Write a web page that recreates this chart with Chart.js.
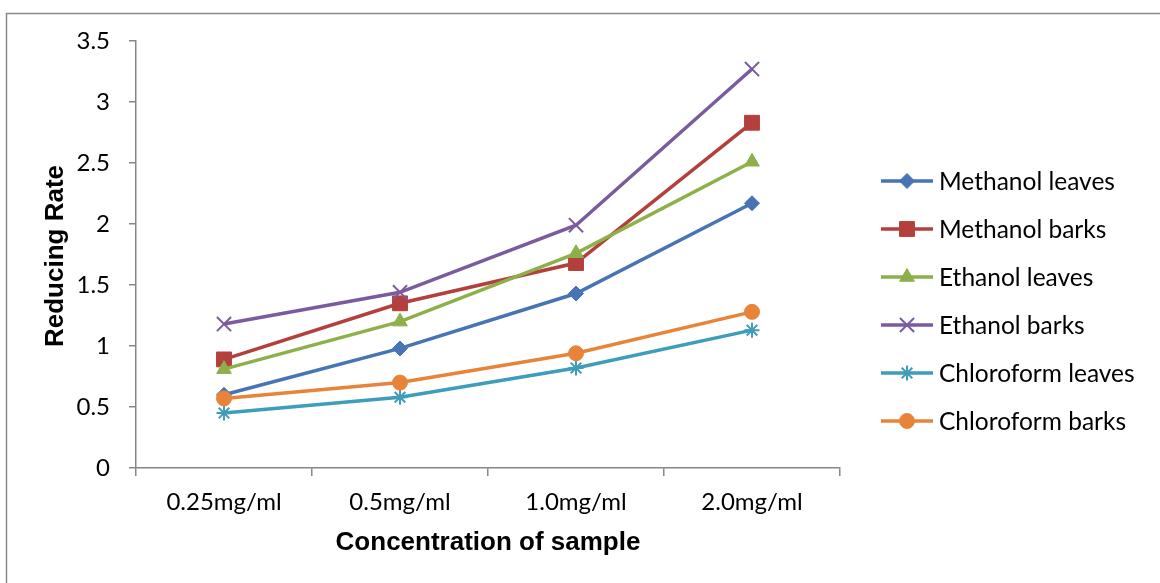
<!DOCTYPE html>
<html>
<head>
<meta charset="utf-8">
<title>Reducing Rate by Concentration</title>
<script src="https://cdn.jsdelivr.net/npm/chart.js@4"></script>
<style>
  html, body { margin: 0; padding: 0; background: #fff; }
  canvas { display: block; }
</style>
</head>
<body>
<canvas id="reducingChart" width="1160" height="583"></canvas>
<script>
// Reducing power line chart - six extracts over four sample concentrations

const concentrations = ['0.25mg/ml', '0.5mg/ml', '1.0mg/ml', '2.0mg/ml'];
const yTicks = [0, 0.5, 1, 1.5, 2, 2.5, 3, 3.5];

const methanolLeaves = [0.60, 0.98, 1.43, 2.17];
const methanolBarks = [0.89, 1.35, 1.68, 2.83];
const ethanolLeaves = [0.81, 1.20, 1.76, 2.51];
const ethanolBarks = [1.18, 1.44, 1.99, 3.27];
const chloroformLeaves = [0.45, 0.58, 0.82, 1.13];
const chloroformBarks = [0.57, 0.70, 0.94, 1.28];

const seriesNames = ['Methanol leaves', 'Methanol barks', 'Ethanol leaves',
    'Ethanol barks', 'Chloroform leaves', 'Chloroform barks'];
const seriesValues = [methanolLeaves, methanolBarks, ethanolLeaves,
    ethanolBarks, chloroformLeaves, chloroformBarks];

const colors = ['#4674B4', '#B3403C', '#8DB04A', '#7A5C9E', '#3E9DB8', '#E8843A'];
const markers = [
    { style: 'rectRot', radius: 7.5, border: 1 },
    { style: 'rect', radius: 10.5, border: 1 },
    { style: 'triangle', radius: 8.5, border: 1 },
    { style: 'crossRot', radius: 10, border: 2 },
    { style: 'star', radius: 7.5, border: 2 },
    { style: 'circle', radius: 7.5, border: 1 }
];

const AXIS = '#868686';
const tickFont = { family: 'Lato, "Open Sans", sans-serif', size: 24 };

const datasets = seriesNames.map((name, i) => ({
    label: name,
    data: seriesValues[i],
    borderColor: colors[i],
    backgroundColor: colors[i],
    borderWidth: 3.5,
    pointStyle: markers[i].style,
    pointRadius: markers[i].radius,
    pointBorderWidth: markers[i].border,
    pointHoverRadius: markers[i].radius,
    tension: 0,
    order: seriesNames.length - i   // later series paint on top
}));

// Outer frame, axis titles and the line+marker legend
const decorPlugin = {
    id: 'decor',
    beforeDraw(chart) {
        const { ctx } = chart;
        ctx.save();
        ctx.strokeStyle = '#898989';
        ctx.lineWidth = 1.5;
        ctx.beginPath();
        ctx.moveTo(6.5, 600);
        ctx.lineTo(6.5, 13.5);
        ctx.lineTo(1200, 13.5);
        ctx.stroke();
        ctx.restore();
    },
    afterDraw(chart) {
        const { ctx, chartArea } = chart;
        ctx.save();
        ctx.fillStyle = '#000';
        ctx.font = 'bold 26px "Liberation Sans", Arial, sans-serif';
        ctx.textAlign = 'center';
        ctx.textBaseline = 'middle';
        ctx.fillText('Concentration of sample', (chartArea.left + chartArea.right) / 2, 543);
        ctx.translate(56, 256);
        ctx.rotate(-Math.PI / 2);
        ctx.fillText('Reducing Rate', 0, 0);
        ctx.restore();

        // legend
        ctx.save();
        ctx.font = '24.5px Lato, "Open Sans", sans-serif';
        ctx.textAlign = 'left';
        ctx.textBaseline = 'middle';
        chart.data.datasets.forEach((ds, i) => {
            const cy = 181 + i * 48;
            ctx.strokeStyle = ds.borderColor;
            ctx.lineWidth = 3.5;
            ctx.beginPath();
            ctx.moveTo(881, cy);
            ctx.lineTo(933, cy);
            ctx.stroke();
            ctx.fillStyle = ds.backgroundColor;
            ctx.lineWidth = ds.pointBorderWidth;
            Chart.helpers.drawPoint(ctx, {
                pointStyle: ds.pointStyle,
                radius: ds.pointRadius,
                borderWidth: ds.pointBorderWidth,
                rotation: 0
            }, 907, cy);
            ctx.fillStyle = '#000';
            ctx.fillText(ds.label, 939, cy + 1);
        });
        ctx.restore();
    }
};

new Chart(document.getElementById('reducingChart').getContext('2d'), {
    type: 'line',
    data: { labels: concentrations, datasets },
    options: {
        responsive: false,
        animation: false,
        layout: { padding: { top: 41, right: 320, left: 0, bottom: 0 } },
        plugins: {
            legend: { display: false },
            tooltip: { enabled: false }
        },
        scales: {
            x: {
                type: 'category',
                offset: true,
                afterFit(s) { s.height = 115; },
                border: { display: true, color: AXIS, width: 1.5 },
                grid: {
                    offset: true,
                    drawOnChartArea: false,
                    drawTicks: true,
                    tickLength: 8,
                    color: AXIS,
                    lineWidth: 1.5
                },
                ticks: { color: '#000', font: tickFont, padding: 12, maxRotation: 0 }
            },
            y: {
                type: 'linear',
                min: 0,
                max: 3.5,
                afterFit(s) { s.width = 136; },
                afterBuildTicks(s) { s.ticks = yTicks.map(v => ({ value: v })); },
                border: { display: true, color: AXIS, width: 1.5 },
                grid: {
                    drawOnChartArea: false,
                    drawTicks: true,
                    tickLength: 7,
                    color: AXIS,
                    lineWidth: 1.5
                },
                ticks: {
                    color: '#000',
                    font: tickFont,
                    padding: 19,
                    callback: v => String(v)
                }
            }
        }
    },
    plugins: [decorPlugin]
});
</script>
</body>
</html>
